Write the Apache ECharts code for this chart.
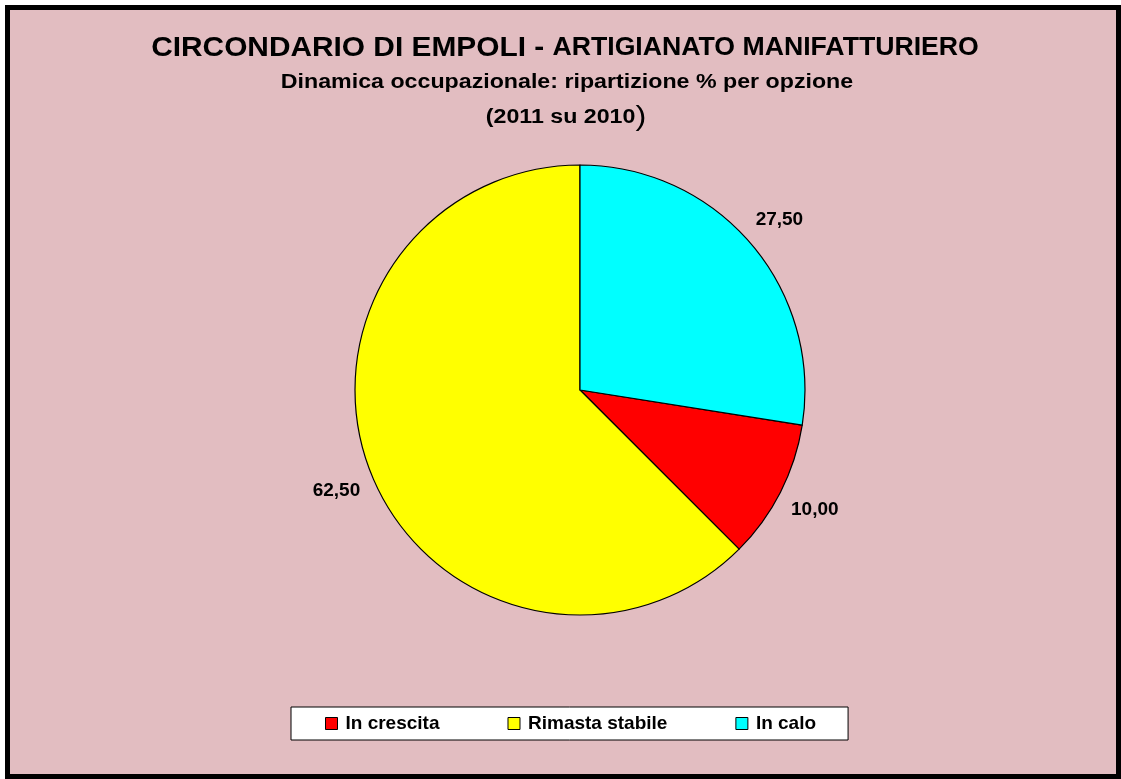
<!DOCTYPE html>
<html>
<head>
<meta charset="utf-8">
<script src="https://cdn.jsdelivr.net/npm/echarts@6/dist/echarts.min.js"></script>
<style>
	html, body { margin: 0; padding: 0; background: #fff; }
	#main { width: 1121px; height: 779px; }
</style>
</head>
<body>
<div id="main"></div>
<script>
// dati
let categories = ['In crescita', 'Rimasta stabile', 'In calo'];
let values = [10.0, 62.5, 27.5];
let colors = ['#ff0000', '#ffff00', '#00ffff'];

let font = 'Liberation Sans, Arial, sans-serif';
let cx = 580, cy = 390, R = 225, start_angle = -9;
let chart = echarts.init(document.getElementById('main'));

// angolo medio di ogni fetta, per mettere le etichette come in Excel
let total = values.reduce((a, b) => a + b, 0);
function mid_angle(i) {
	let cum = 0;
	for (let k = 0; k < i; k++) cum += values[k];
	return (start_angle - ((cum + values[i] / 2) / total) * 360) * Math.PI / 180;
}

let option = {
	backgroundColor: '#ffffff',
	animation: false,
	graphic: [
		{
			// cornice esterna
			type: 'rect',
			z: -10,
			shape: { x: 7.5, y: 7.5, width: 1111, height: 769 },
			style: { fill: '#e2bdc1', stroke: '#000', lineWidth: 5 },
		},
		{
			type: 'text',
			x: 565,
			y: 48,
			scaleX: 1.066,
			style: {
				text: '{a|CIRCONDARIO DI EMPOLI - }{b|ARTIGIANATO MANIFATTURIERO}',
				align: 'center',
				verticalAlign: 'middle',
				rich: {
					a: { fontFamily: font, fontWeight: 'bold', fontSize: 28, fill: '#000' },
					b: { fontFamily: font, fontWeight: 'bold', fontSize: 25, fill: '#000' },
				},
			},
		},
		{
			type: 'text',
			x: 567,
			y: 82,
			scaleX: 1.16,
			style: {
				text: 'Dinamica occupazionale: ripartizione % per opzione',
				align: 'center',
				verticalAlign: 'middle',
				fontFamily: font,
				fontWeight: 'bold',
				fontSize: 20,
				fill: '#000',
			},
		},
		{
			type: 'text',
			x: 566,
			y: 117,
			scaleX: 1.16,
			style: {
				text: '{a|(2011 su 2010}{b|)}',
				align: 'center',
				verticalAlign: 'middle',
				rich: {
					a: { fontFamily: font, fontWeight: 'bold', fontSize: 20, fill: '#000' },
					b: { fontFamily: font, fontWeight: 'normal', fontSize: 28, fill: '#000' },
				},
			},
		},
	],
	legend: {
		data: categories,
		left: 291,
		top: 707,
		orient: 'horizontal',
		backgroundColor: '#ffffff',
		borderColor: '#000',
		borderWidth: 1,
		borderRadius: 0,
		padding: [7, 32, 7, 34],
		itemGap: 68,
		itemWidth: 12,
		itemHeight: 12,
		icon: 'rect',
		itemStyle: { borderColor: '#000', borderWidth: 1 },
		textStyle: { fontFamily: font, fontWeight: 'bold', fontSize: 19, color: '#000', padding: [0, 0, 0, 3] },
		selectedMode: false,
	},
	series: [
		{
			type: 'pie',
			center: [cx, cy],
			radius: R,
			startAngle: start_angle,
			clockwise: true,
			data: categories.map((c, i) => ({
				name: c,
				value: values[i],
				itemStyle: { color: colors[i] },
			})),
			itemStyle: { borderColor: '#000', borderWidth: 1.2 },
			label: {
				show: true,
				position: 'outside',
				formatter: (p) => p.value.toFixed(2).replace('.', ','),
				fontFamily: font,
				fontWeight: 'bold',
				fontSize: 19,
				color: '#000',
			},
			labelLine: { show: false, length: 14, length2: 0 },
			labelLayout: (params) => {
				let a = mid_angle(params.dataIndex);
				let ux = Math.cos(a), uy = -Math.sin(a);
				let w = params.labelRect.width, h = params.labelRect.height;
				let r = R + 13 + Math.abs(ux) * w / 2 + Math.abs(uy) * h / 2;
				return { x: cx + ux * r, y: cy + uy * r, align: 'center', verticalAlign: 'middle' };
			},
			emphasis: { disabled: true },
		},
	],
};
chart.setOption(option);
</script>
</body>
</html>
